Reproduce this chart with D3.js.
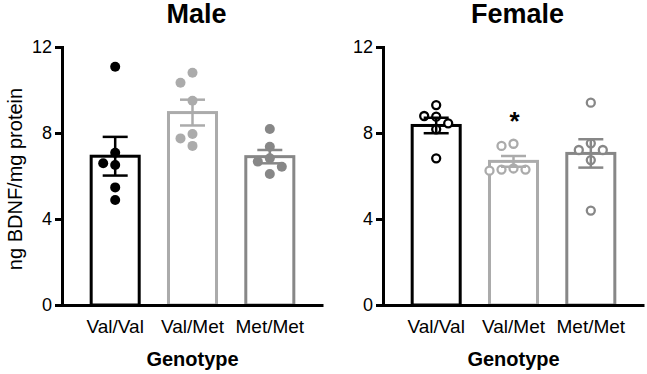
<!DOCTYPE html>
<html>
<head>
<meta charset="utf-8">
<script src="https://cdn.jsdelivr.net/npm/d3@7"></script>
<style>
  body { margin: 0; background: #fff; }
  svg { display: block; font-family: "Liberation Sans", Arial, sans-serif; }
</style>
</head>
<body>
<svg id="chart"></svg>
<script>
// data
var genotypes = ["Val/Val", "Val/Met", "Met/Met"];
var yTicks = [0, 4, 8, 12];

var maleMeans = [6.92, 8.95, 6.9];
var maleSem = [0.9, 0.6, 0.31];
var malePoints = [
  [11.08, 7.08, 6.59, 6.51, 5.47, 4.88],
  [10.8, 10.34, 9.5, 7.95, 7.75, 7.4],
  [8.19, 7.36, 6.82, 6.67, 6.43, 6.09]
];

var femaleMeans = [8.35, 6.68, 7.05];
var femaleSem = [0.36, 0.25, 0.66];
var femalePoints = [
  [9.3, 8.79, 8.76, 8.45, 8.17, 6.82],
  [7.5, 7.4, 6.35, 6.3, 6.3, 6.25],
  [9.41, 7.52, 7.21, 7.21, 6.74, 4.39]
];
var femaleSig = ["", "*", ""];

var colors = ["#000000", "#ababab", "#878787"];

var svgWidth = 647;
var svgHeight = 374;
var plotTop = 47;
var plotBottom = 305;
var plotWidth = 261;
var dotR = 5;

var svg = d3.select("#chart")
  .attr("width", svgWidth)
  .attr("height", svgHeight);

var yScale = d3.scaleLinear()
  .domain([0, 12])
  .range([plotBottom, plotTop]);

var xScale = d3.scaleBand()
  .domain(genotypes)
  .range([0, plotWidth])
  .paddingInner(0.34)
  .paddingOuter(0.358);

// simple beeswarm so close values spread sideways
function swarm(values) {
  var step = 2 * dotR + 2;
  var placed = [];
  var sorted = values.slice().sort(function(a, b) { return b - a; });
  sorted.forEach(function(v) {
    var py = yScale(v);
    for (var k = 0; k < 10; k++) {
      var dx = k === 0 ? 0 : (k % 2 === 1 ? -1 : 1) * Math.ceil(k / 2) * step;
      var hit = placed.some(function(p) {
        return Math.hypot(p.dx - dx, p.y - py) < 2 * dotR + 1;
      });
      if (!hit) {
        placed.push({ dx: dx, y: py, v: v });
        break;
      }
    }
  });
  return placed;
}

function drawPanel(left, title, means, sems, points, hollow, sig) {
  var g = svg.append("g")
    .attr("transform", "translate(" + left + ",0)");

  var bw = xScale.bandwidth();

  // bars
  g.selectAll("rect.bar")
    .data(means)
    .enter()
    .append("rect")
    .attr("class", "bar")
    .attr("x", function(d, i) { return xScale(genotypes[i]) + 1.5; })
    .attr("y", function(d) { return yScale(d); })
    .attr("width", bw - 3)
    .attr("height", function(d) { return yScale(0) - yScale(d); })
    .attr("fill", "#fff")
    .attr("stroke", function(d, i) { return colors[i]; })
    .attr("stroke-width", 3);

  // points
  points.forEach(function(vals, i) {
    var cx = xScale(genotypes[i]) + bw / 2;
    g.selectAll("circle.p" + i)
      .data(swarm(vals))
      .enter()
      .append("circle")
      .attr("class", "p" + i)
      .attr("cx", function(d) { return cx + d.dx; })
      .attr("cy", function(d) { return d.y; })
      .attr("r", hollow ? dotR - 1 : dotR)
      .attr("fill", hollow ? "#fff" : colors[i])
      .attr("stroke", hollow ? colors[i] : "none")
      .attr("stroke-width", 2.3);
  });

  // error bars (SEM)
  var err = g.selectAll("g.err")
    .data(means)
    .enter()
    .append("g")
    .attr("class", "err")
    .attr("stroke", function(d, i) { return colors[i]; })
    .attr("stroke-width", 2.5);

  err.append("line")
    .attr("x1", function(d, i) { return xScale(genotypes[i]) + bw / 2; })
    .attr("x2", function(d, i) { return xScale(genotypes[i]) + bw / 2; })
    .attr("y1", function(d, i) { return yScale(d - sems[i]); })
    .attr("y2", function(d, i) { return yScale(d + sems[i]); });

  [1, -1].forEach(function(sign) {
    err.append("line")
      .attr("x1", function(d, i) { return xScale(genotypes[i]) + bw / 2 - 12.5; })
      .attr("x2", function(d, i) { return xScale(genotypes[i]) + bw / 2 + 12.5; })
      .attr("y1", function(d, i) { return yScale(d + sign * sems[i]); })
      .attr("y2", function(d, i) { return yScale(d + sign * sems[i]); });
  });

  // significance marks
  if (sig) {
    g.selectAll("text.sig")
      .data(sig)
      .enter()
      .append("text")
      .attr("class", "sig")
      .attr("x", function(d, i) { return xScale(genotypes[i]) + bw / 2 + 1; })
      .attr("y", function(d, i) { return yScale(d3.max(points[i])) - 14; })
      .attr("text-anchor", "middle")
      .attr("font-size", "26px")
      .attr("font-weight", "bold")
      .text(function(d) { return d; });
  }

  // axes
  var yAxis = d3.axisLeft(yScale)
    .tickValues(yTicks)
    .tickSize(7)
    .tickPadding(3);

  var yG = g.append("g")
    .attr("class", "y axis")
    .call(yAxis);

  var xAxis = d3.axisBottom(xScale)
    .tickSize(0)
    .tickPadding(14.5);

  var xG = g.append("g")
    .attr("class", "x axis")
    .attr("transform", "translate(0," + plotBottom + ")")
    .call(xAxis);

  g.selectAll(".axis path, .axis line")
    .attr("stroke", "#000")
    .attr("stroke-width", 3);
  yG.selectAll("text")
    .attr("font-size", "18px")
    .attr("font-family", "Liberation Sans, Arial, sans-serif")
    .attr("fill", "#000");
  xG.selectAll("text")
    .attr("font-size", "19px")
    .attr("font-family", "Liberation Sans, Arial, sans-serif")
    .attr("fill", "#000");

  // titles
  g.append("text")
    .attr("x", plotWidth / 2 + 4)
    .attr("y", 23)
    .attr("text-anchor", "middle")
    .attr("font-size", "27px")
    .attr("font-weight", "bold")
    .text(title);

  g.append("text")
    .attr("x", plotWidth / 2)
    .attr("y", 366)
    .attr("text-anchor", "middle")
    .attr("font-size", "20px")
    .attr("font-weight", "bold")
    .text("Genotype");

  return g;
}

drawPanel(62, "Male", maleMeans, maleSem, malePoints, false, null);
drawPanel(383, "Female", femaleMeans, femaleSem, femalePoints, true, femaleSig);

svg.append("text")
  .attr("transform", "translate(22,179) rotate(-90)")
  .attr("text-anchor", "middle")
  .attr("font-size", "20px")
  .text("ng BDNF/mg protein");
</script>
</body>
</html>
